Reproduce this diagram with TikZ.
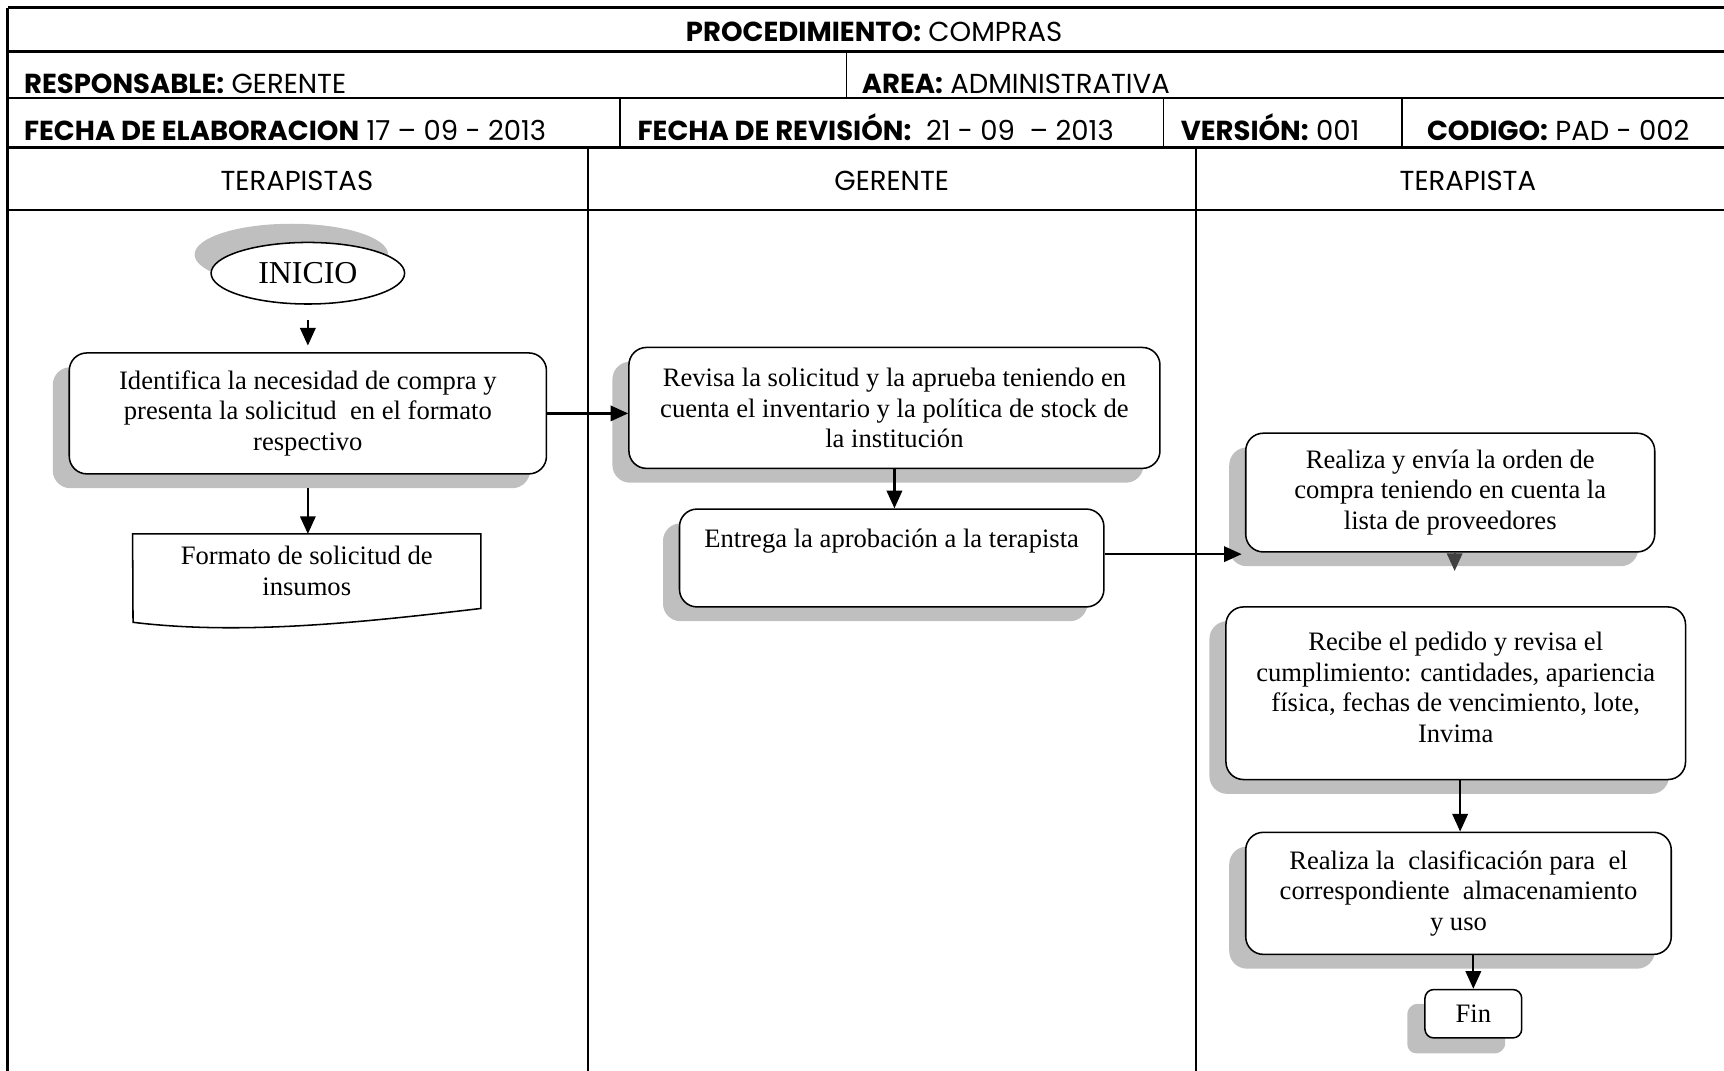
\documentclass[tikz,border=0pt]{standalone}
\usepackage{fontspec}
\setmainfont{Liberation Serif}
\newfontfamily\cabfont{Poppins}
\usetikzlibrary{arrows.meta,shapes.geometric,shadows}
\definecolor{sombra}{RGB}{191,191,191}
\definecolor{grisflecha}{RGB}{64,64,64}

\begin{document}
\begin{tikzpicture}[x=0.5pt,y=0.5pt,yscale=-1,xscale=1,
    cab/.style={inner sep=0.75pt, font=\cabfont\fontsize{12.5}{14}\selectfont},
    paso/.style={draw, line width=0.7pt, fill=white, rounded corners=8pt, align=center, inner sep=0pt,
      font=\fontsize{12.1}{14}\selectfont,
      general shadow={fill=sombra, shadow xshift=-7.5pt, shadow yshift=-6.5pt}},
    flecha/.style={-{Triangle[length=8pt,width=7pt]}, line width=1pt},
    grueso/.style={line width=1.1pt},
    fino/.style={line width=0.7pt}]
\useasboundingbox (0,0) rectangle (1568,974);

%Shape: Table frame and rows
\draw [grueso] (7,7) -- (1568,7) (7,47) -- (1568,47) (7,89) -- (1568,89) (7,134) -- (1568,134) (7,191) -- (1568,191) ;
\draw [grueso] (7,7) -- (7,974) ;
%Straight Lines: cell dividers
\draw [fino] (770,47) -- (770,89) (564,89) -- (564,134) (1058,89) -- (1058,134) (1275,89) -- (1275,134) ;
%Straight Lines: lanes
\draw [fino] (535,134) -- (535,974) (1088,134) -- (1088,974) ;

% Text Node
\draw (795,38) node (proc) [cab,anchor=base] {\textbf{PROCEDIMIENTO:} COMPRAS};
% Text Node
\draw (20,85) node (resp) [cab,anchor=base west] {\textbf{RESPONSABLE:} GERENTE};
% Text Node
\draw (782,85) node (area) [cab,anchor=base west] {\textbf{AREA:} ADMINISTRATIVA};
% Text Node
\draw (20,128) node (felab) [cab,anchor=base west] {\textbf{FECHA DE ELABORACION} 17 – 09 - 2013};
% Text Node
\draw (578,128) node (frev) [cab,anchor=base west] {\textbf{FECHA DE REVISIÓN:}\ \ 21 - 09\ \ – 2013};
% Text Node
\draw (1072,128) node (vers) [cab,anchor=base west] {\textbf{VERSIÓN:} 001};
% Text Node
\draw (1296,128) node (cod) [cab,anchor=base west] {\textbf{CODIGO:} PAD - 002};
% Text Node
\draw (270,173) node (carril1) [cab,anchor=base] {TERAPISTAS};
% Text Node
\draw (811,173) node (carril2) [cab,anchor=base] {GERENTE};
% Text Node
\draw (1335,173) node (carril3) [cab,anchor=base] {TERAPISTA};

%Shape: Ellipse
\draw (280,248.5) node (inicio) [ellipse, draw, line width=0.7pt, fill=white, inner sep=0pt,
  minimum width=88pt, minimum height=28pt, font=\fontsize{14.5}{16}\selectfont,
  general shadow={fill=sombra, shadow xshift=-7.5pt, shadow yshift=8.5pt}] {INICIO};

%Shape: Rounded Rectangles
\draw (280,376) node (identifica) [paso, minimum width=217pt, minimum height=55pt]
  {Identifica la necesidad de compra y\\presenta la solicitud\ \ en el formato\\respectivo};
\draw (813.5,371) node (revisa) [paso, minimum width=241.5pt, minimum height=55pt]
  {Revisa la solicitud y la aprueba teniendo en\\cuenta el inventario y la política de stock de\\la institución};
\draw (811,507.5) node (entrega) [paso, minimum width=193pt, minimum height=44.5pt]
  {Entrega la aprobación a la terapista\\\strut};
\draw (1319,448) node (orden) [paso, minimum width=186pt, minimum height=54pt]
  {Realiza y envía la orden de\\compra teniendo en cuenta la\\lista de proveedores};
\draw (1324,630.5) node (recibe) [paso, minimum width=209pt, minimum height=78.5pt]
  {Recibe el pedido y revisa el\\cumplimiento: cantidades, apariencia\\física, fechas de vencimiento, lote,\\Invima\\[-8.5pt]};
\draw (1326.5,812.5) node (clasifica) [paso, minimum width=193.5pt, minimum height=55.5pt]
  {Realiza la\ \ clasificación para\ \ el\\correspondiente\ \ almacenamiento\\y uso};
\draw (1340,922) node (fin) [paso, rounded corners=4pt, minimum width=44pt, minimum height=22pt,
  general shadow={fill=sombra, shadow xshift=-8pt, shadow yshift=-7pt}] {Fin};

%Shape: Document
\draw (279,519.5) node (formato) [inner sep=0pt, minimum width=158pt, minimum height=33.5pt, align=center,
  font=\fontsize{12.1}{14}\selectfont] {Formato de solicitud de\\insumos};
\draw [line width=0.7pt] (formato.south east) -- (formato.north east) -- (formato.north west) -- (121,566)
  .. controls (220,578) and (330,566) .. (formato.south east) -- cycle ;

%Straight Lines: connectors
\draw [flecha, shorten <=7pt, shorten >=3pt] (inicio) -- (identifica) ;
\draw [flecha, shorten <=6pt] (identifica.south) -- (identifica.south |- formato.north) ;
\draw [flecha] (identifica.east) -- (identifica.east -| revisa.west) ;
\draw [flecha] (revisa.south) -- (revisa.south |- entrega.north) ;
\draw [flecha, shorten >=1.5pt] (entrega.east |- 0,504) -- (orden.west |- 0,504) ;
\draw [flecha, color=grisflecha, shorten >=16pt] (orden.south -| 1323,0) -- (recibe.north -| 1323,0) ;
\draw [flecha] (recibe.south -| 1328,0) -- (clasifica.north -| 1328,0) ;
\draw [flecha] (fin.north |- clasifica.south) -- (fin.north) ;
\end{tikzpicture}
\end{document}
